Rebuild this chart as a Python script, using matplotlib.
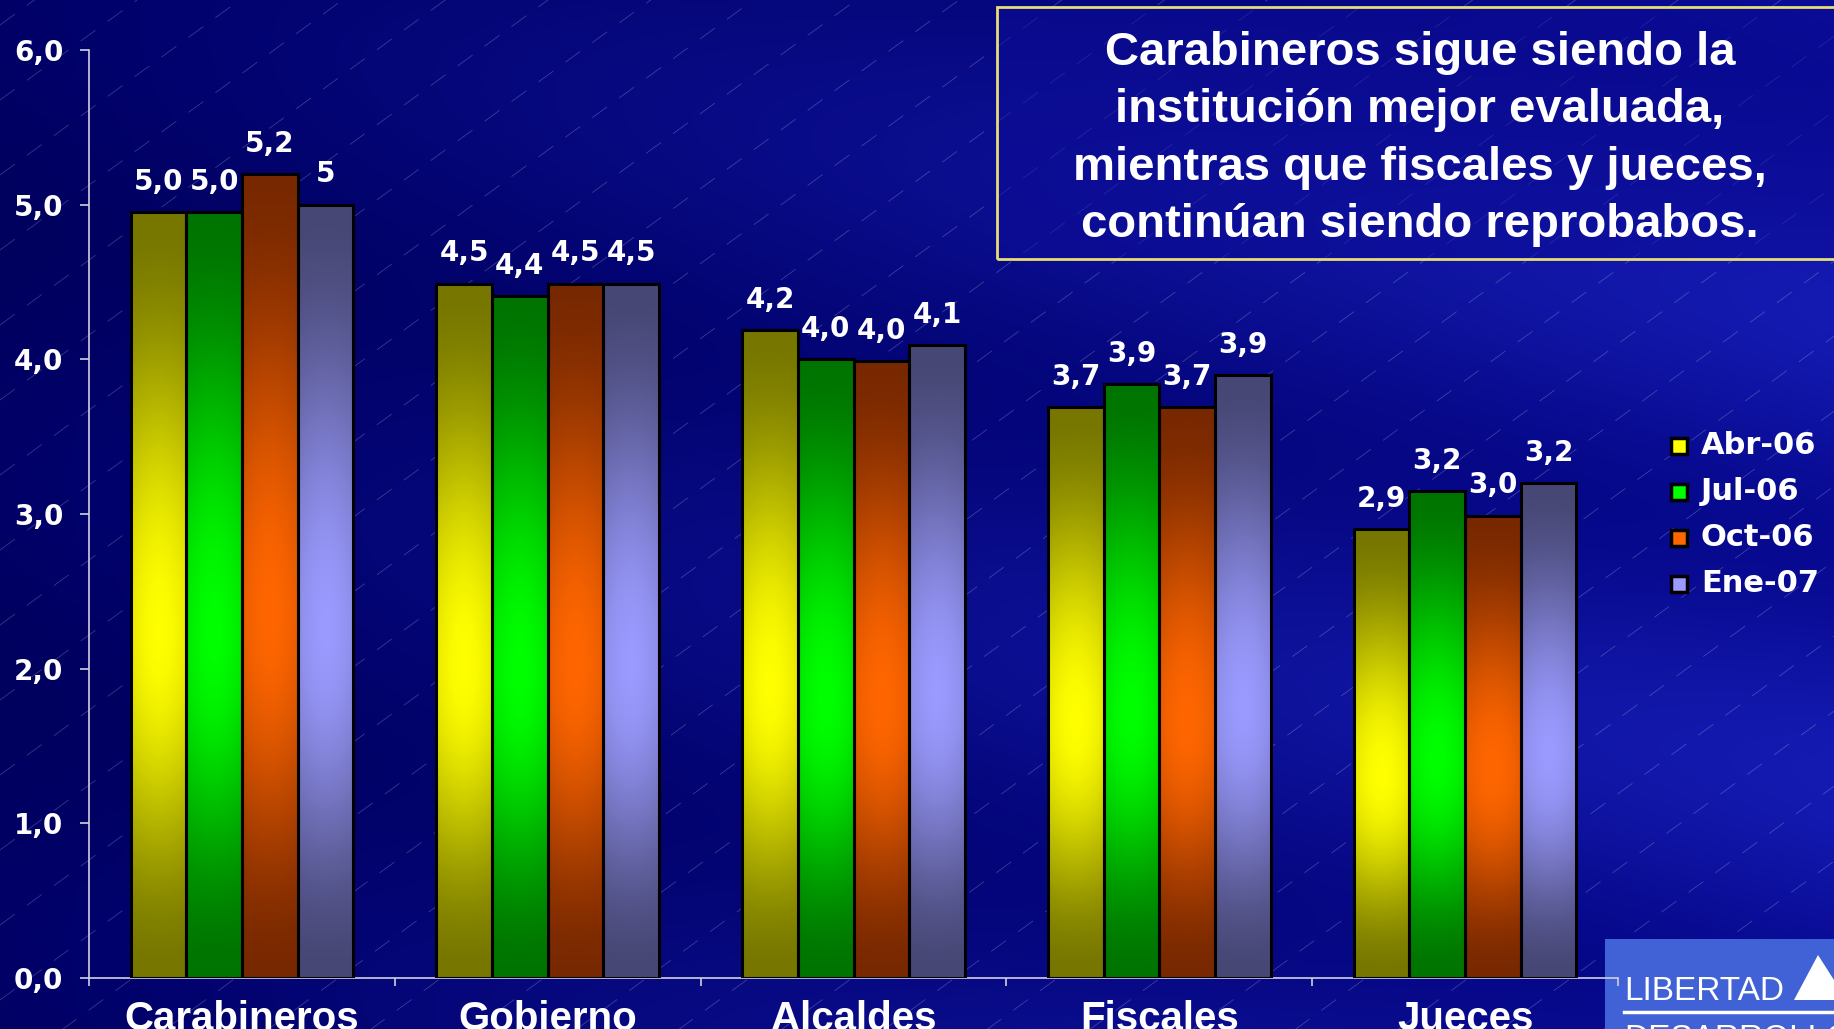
import numpy as np
import matplotlib
matplotlib.use("Agg")
import matplotlib.pyplot as plt
from matplotlib.patches import Rectangle, Polygon
from matplotlib.lines import Line2D

categories = ["Carabineros", "Gobierno", "Alcaldes", "Fiscales", "Jueces"]
series = ["Abr-06", "Jul-06", "Oct-06", "Ene-07"]
abr_06 = [4.95, 4.49, 4.19, 3.69, 2.90]
jul_06 = [4.95, 4.41, 4.00, 3.84, 3.15]
oct_06 = [5.20, 4.49, 3.99, 3.69, 2.99]
ene_07 = [5.00, 4.49, 4.09, 3.90, 3.20]
labels_abr = ["5,0", "4,5", "4,2", "3,7", "2,9"]
labels_jul = ["5,0", "4,4", "4,0", "3,9", "3,2"]
labels_oct = ["5,2", "4,5", "4,0", "3,7", "3,0"]
labels_ene = ["5", "4,5", "4,1", "3,9", "3,2"]
yticks = [0, 1, 2, 3, 4, 5, 6]
ytick_labels = ["0,0", "1,0", "2,0", "3,0", "4,0", "5,0", "6,0"]

values = [abr_06, jul_06, oct_06, ene_07]
bar_labels = [labels_abr, labels_jul, labels_oct, labels_ene]
bright = ["#ffff00", "#00ff00", "#ff6600", "#9a9aff"]
dark = ["#767600", "#007400", "#782800", "#474775"]

W, H = 1834, 1029
narrow = ["Liberation Sans Narrow", "Liberation Sans"]
wide = "DejaVu Sans"

fig = plt.figure(figsize=(W / 100, H / 100), dpi=100)

# background with soft diagonal bands
bg = fig.add_axes([0, 0, 1, 1], zorder=-10)
yy, xx = np.mgrid[0:H:4, 0:W:4]
u = xx / W
v = yy / H
t = v - 0.3 * u
stripes = 0.5 + 0.5 * np.cos(2 * np.pi * t * 2.2)
b = 0.37 + 0.20 * u + 0.09 * stripes * (0.4 + u)
r = 0.03 * u + 0.05 * stripes * u
g = r * 1.3
bg.imshow(np.dstack([r, g, b]).clip(0, 1), extent=[0, W, H, 0], aspect="auto",
          interpolation="bilinear")
for c in range(-1400, 2600, 75):
    bg.plot([0, W], [c, c - 0.73 * W], color="white", lw=0.6, alpha=0.22,
            dashes=(22, 18))
bg.set_xlim(0, W)
bg.set_ylim(H, 0)
bg.axis("off")

# logo box, bottom right
fig.patches.append(Rectangle((1605 / W, 0), (W - 1605) / W, (H - 939) / H,
                             transform=fig.transFigure, facecolor="#4062d6",
                             edgecolor="none", zorder=-5))
fig.text(1624 / W, 1 - 1000 / H, "LIBERTAD", color="white", fontsize=24,
         family=narrow, va="baseline", zorder=-4)
fig.add_artist(Line2D([1624 / W, 1834 / W], [1 - 1012 / H, 1 - 1012 / H],
                      color="white", lw=2.5, zorder=-4))
fig.text(1624 / W, 1 - 1048 / H, "DESARROLLO", color="white", fontsize=24,
         family=narrow, va="baseline", zorder=-4)
fig.add_artist(Polygon([[1794 / W, 1 - 1000 / H], [1818 / W, 1 - 955 / H],
                        [1834 / W, 1 - 980 / H], [1834 / W, 1 - 1000 / H]],
                       closed=True, transform=fig.transFigure,
                       facecolor="white", edgecolor="none", zorder=-4))

ax = fig.add_axes([89 / W, 51 / H, (1618 - 89) / W, (978 - 50) / H])
ax.set_facecolor("none")

x = np.arange(len(categories))
w = 0.182
tv = np.linspace(0, 1, 200)[:, None]
sv = np.linspace(0, 1, 40)[None, :]
peak = 0.45
tt = np.where(tv < peak, tv / peak, (1 - tv) / (1 - peak))
for j, vals in enumerate(values):
    xs = x + (j - 1.5) * w
    rects = ax.bar(xs, vals, w, facecolor="none", edgecolor="black",
                   linewidth=2.2, zorder=3)
    c0 = np.array(matplotlib.colors.to_rgb(dark[j]))
    c1 = np.array(matplotlib.colors.to_rgb(bright[j]))
    prof = np.sin(np.pi * tt / 2) ** 1.8 * (0.85 + 0.15 * np.sin(np.pi * sv))
    img = c0 + (c1 - c0) * prof[..., None]
    for rect, lab in zip(rects, bar_labels[j]):
        x0 = rect.get_x()
        ax.imshow(img, extent=[x0, x0 + w, 0, rect.get_height()], aspect="auto",
                  origin="lower", zorder=2, interpolation="bilinear")
        ax.annotate(lab, (x0 + w / 2, rect.get_height()), xytext=(0, 16),
                    textcoords="offset points", ha="center", va="baseline",
                    color="white", fontsize=20, fontweight="bold", family=wide)

ax.set_xlim(-0.5, len(categories) - 0.5)
ax.set_ylim(0, 6)
ax.set_yticks(yticks)
ax.set_yticklabels(ytick_labels, color="white", fontsize=20,
                   fontweight="bold", family=wide)
ax.set_xticks(x)
ax.set_xticklabels(categories, color="white", fontsize=29, fontweight="bold",
                   family=narrow)
ax.set_xticks(np.arange(-0.5, len(categories)), minor=True)
ax.tick_params(axis="x", which="major", length=0, pad=16)
ax.tick_params(axis="x", which="minor", length=6, color="#d0d0e0", width=1.2)
ax.tick_params(axis="y", length=6.5, color="#d0d0e0", width=1.2, pad=12)
for side in ["top", "right"]:
    ax.spines[side].set_visible(False)
for side in ["left", "bottom"]:
    ax.spines[side].set_color("#d0d0e0")
    ax.spines[side].set_linewidth(1.2)

# legend drawn on the right
for i, name in enumerate(series):
    yy_ = 1 - (446 + i * 46) / H
    fig.add_artist(Line2D([1679 / W], [yy_], marker="s", markersize=12,
                          markerfacecolor=bright[i], markeredgecolor="black",
                          markeredgewidth=2.5, linestyle=""))
    fig.text(1701 / W, yy_, name, color="white", fontsize=22,
             fontweight="bold", family=wide, va="center")

# title box
fig.patches.append(Rectangle((997 / W, 1 - 259 / H), (1850 - 997) / W,
                             (259 - 7) / H, transform=fig.transFigure,
                             facecolor="#0c0c96", alpha=0.55,
                             edgecolor="none", zorder=1))
fig.patches.append(Rectangle((997 / W, 1 - 259 / H), (1850 - 997) / W,
                             (259 - 7) / H, transform=fig.transFigure,
                             facecolor="none", edgecolor="#e6dc78", lw=2,
                             zorder=2))
fig.text(1420 / W, 1 - 139 / H,
         "Carabineros sigue siendo la\ninstitución mejor evaluada,\n"
         "mientras que fiscales y jueces,\ncontinúan siendo reprobabos.",
         ha="center", va="center", color="white", fontsize=34,
         fontweight="bold", family=narrow, linespacing=1.385, zorder=3)

fig.savefig("out.png", dpi=100)
